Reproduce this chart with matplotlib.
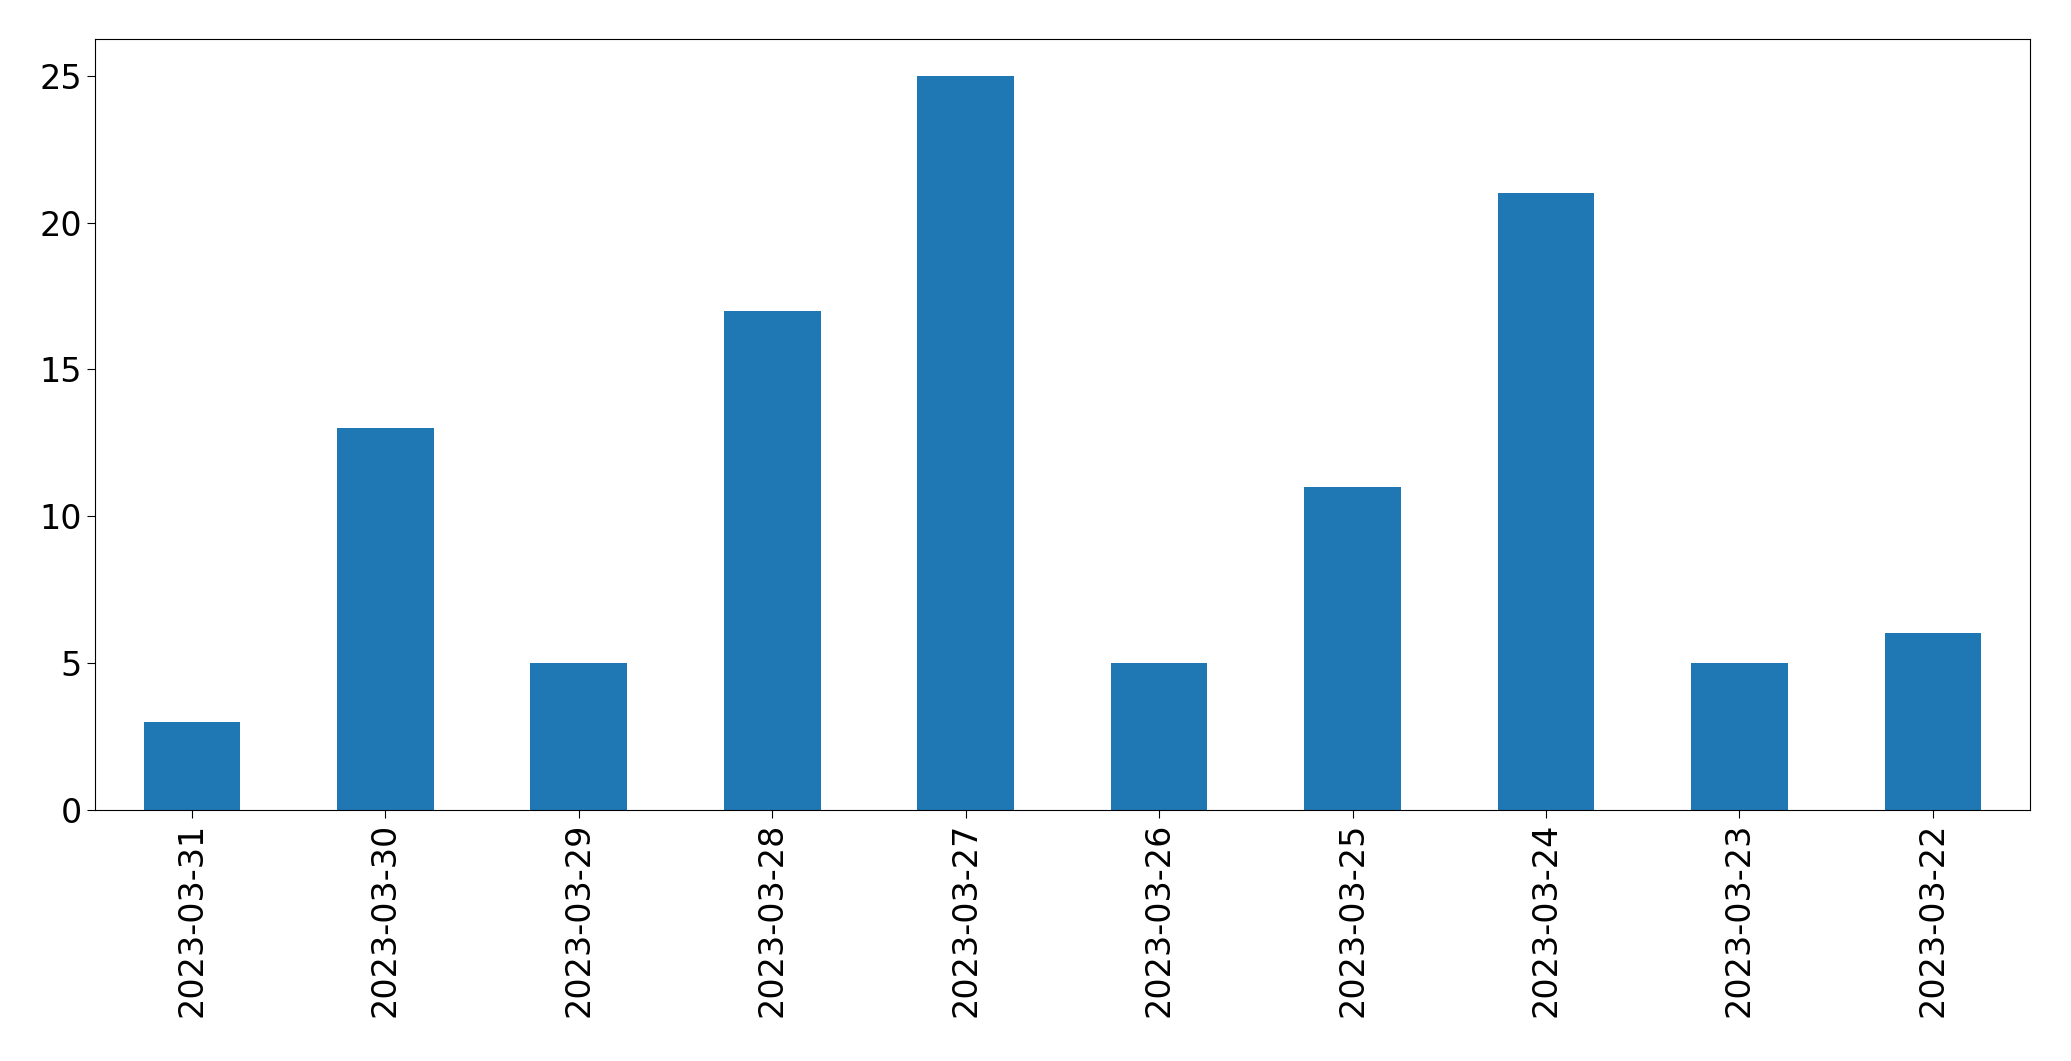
import matplotlib
matplotlib.use("Agg")
import matplotlib.pyplot as plt

dates = ["2023-03-31","2023-03-30","2023-03-29","2023-03-28","2023-03-27",
         "2023-03-26","2023-03-25","2023-03-24","2023-03-23","2023-03-22"]
counts = [3, 13, 5, 17, 25, 5, 11, 21, 5, 6]

fig = plt.figure(figsize=(20.71, 10.61), dpi=100)
ax = fig.add_axes([0.046, 0.237, 0.934, 0.726])
x = range(len(dates))
ax.bar(x, counts, width=0.5, color="#1f77b4")
ax.set_xlim(-0.5, len(dates) - 0.5)
ax.set_ylim(0, 26.25)
ax.set_xticks(list(x))
ax.set_xticklabels(dates, rotation=90)
ax.set_yticks([0, 5, 10, 15, 20, 25])
ax.tick_params(labelsize=24, length=6)
fig.savefig("out.png", dpi=100)
